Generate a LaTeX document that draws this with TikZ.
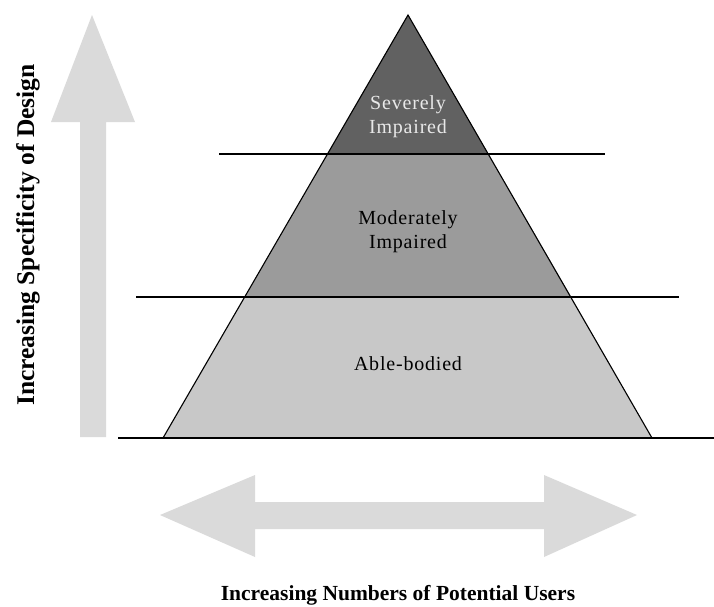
\documentclass[tikz,border=0pt]{standalone}
\usepackage{fontspec}
\setmainfont{Liberation Serif}
\newfontfamily\labfont[LetterSpace=4]{Liberation Serif}
\definecolor{topgray}{HTML}{616161}
\definecolor{midgray}{HTML}{9B9B9B}
\definecolor{lowgray}{HTML}{C8C8C8}
\definecolor{arrowgray}{HTML}{DADADA}
\definecolor{lighttext}{HTML}{E8E8E8}
\tikzset{
  rule/.style={draw=black, line width=1.1pt},
  bigarrow/.style={fill=arrowgray, draw=none},
  layerlabel/.style={font=\labfont\fontsize{20}{23.5}\selectfont, align=center, anchor=base, inner sep=0pt},
  axislabel/.style={font=\bfseries\fontsize{21.5}{26}\selectfont, anchor=base, inner sep=0pt}
}
\begin{document}
\begin{tikzpicture}[x=1pt,y=-1pt]
\useasboundingbox (0,0) rectangle (714,606);
% vertical arrow
\fill[bigarrow] (80,437) -- (80,122) -- (51,122) -- (92,15) -- (135,122) -- (106,122) -- (106,437) -- cycle;
% horizontal double arrow
\fill[bigarrow] (160,515) -- (255,475) -- (255,502) -- (544,502) -- (544,475) -- (637,515) -- (544,557) -- (544,529) -- (255,529) -- (255,557) -- cycle;
% pyramid layers
\coordinate (apex) at (408,15);
\coordinate (bl) at (163,438);
\coordinate (br) at (652,438);
\coordinate (tl) at (327.5,154);
\coordinate (tr) at (488.5,154);
\coordinate (ml) at (244.7,297);
\coordinate (mr) at (571.3,297);
\fill[topgray] (apex) -- (tl) -- (tr) -- cycle;
\fill[midgray] (tl) -- (ml) -- (mr) -- (tr) -- cycle;
\fill[lowgray] (ml) -- (bl) -- (br) -- (mr) -- cycle;
\draw[rule] (bl) -- (apex) -- (br);
% horizontal rules
\coordinate (r1a) at (219,154); \coordinate (r1b) at (605,154);
\coordinate (r2a) at (136,297); \coordinate (r2b) at (679,297);
\coordinate (r3a) at (118,438); \coordinate (r3b) at (714,438);
\draw[rule] (r1a) -- (r1b);
\draw[rule] (r2a) -- (r2b);
\draw[rule] (r3a) -- (r3b);
% labels (base anchor = baseline of last line)
\node[layerlabel, text=lighttext] (sev) at (408,133) {Severely\\Impaired};
\node[layerlabel] (mod) at (408,248) {Moderately\\Impaired};
\node[layerlabel] (able) at (408,370) {Able-bodied};
\node[axislabel] (users) at (398,600) {Increasing Numbers of Potential Users};
\node[axislabel, font=\bfseries\fontsize{25.5}{30}\selectfont, rotate=90] (spec) at (34,235) {Increasing Specificity of Design};
\end{tikzpicture}
\end{document}
